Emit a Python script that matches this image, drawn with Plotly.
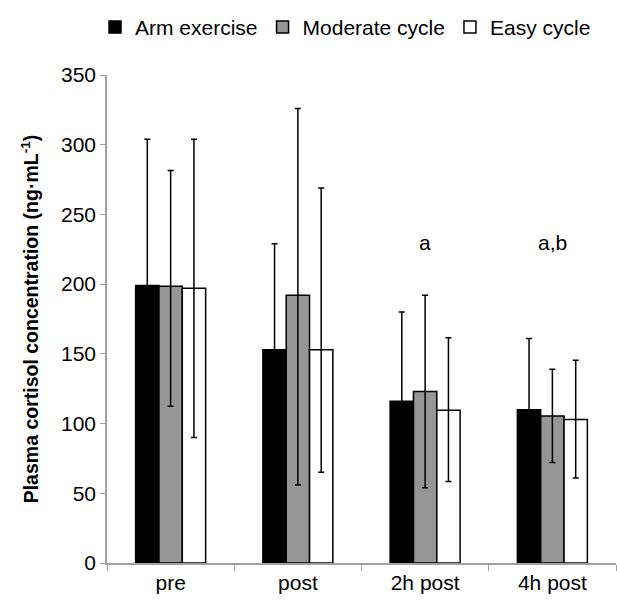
import plotly.graph_objects as go

categories = ["pre", "post", "2h post", "4h post"]
series_names = ["Arm exercise", "Moderate cycle", "Easy cycle"]

arm_mean = [199, 153, 116, 110]
arm_err_up = [105, 76, 64, 51]
arm_err_down = [105, 76, 64, 51]

mod_mean = [198.5, 192, 123, 105.5]
mod_err_up = [83, 134, 69, 33.5]
mod_err_down = [86, 136, 69, 33.5]

easy_mean = [197, 153, 109.5, 103]
easy_err_up = [107, 116, 52, 42.5]
easy_err_down = [107, 88, 51, 42]

annot_cats = ["2h post", "4h post"]
annot_text = ["a", "a,b"]
annot_y = [230, 230]

colors = ["#000000", "#969696", "#ffffff"]
means = [arm_mean, mod_mean, easy_mean]
ups = [arm_err_up, mod_err_up, easy_err_up]
downs = [arm_err_down, mod_err_down, easy_err_down]

FONT = "Liberation Sans"

fig = go.Figure()
for name, m, u, d, c in zip(series_names, means, ups, downs, colors):
    fig.add_trace(go.Bar(
        x=categories, y=m, name=name,
        marker=dict(color=c, line=dict(color="#000000", width=1.5)),
        error_y=dict(type="data", symmetric=False, array=u, arrayminus=d,
                     color="#000000", thickness=1.5, width=3),
    ))

for cat, t, yv in zip(annot_cats, annot_text, annot_y):
    fig.add_annotation(x=cat, y=yv, text=t, showarrow=False,
                       font=dict(family=FONT, size=21, color="#000000"))

fig.update_layout(
    width=617, height=605,
    margin=dict(l=107, r=1, t=75, b=42),
    paper_bgcolor="white", plot_bgcolor="white",
    barmode="group", bargap=0.45, bargroupgap=0,
    font=dict(family=FONT, size=21, color="#000000"),
    showlegend=True,
    legend=dict(orientation="h", x=0.56, xanchor="center", xref="container",
                y=0.955, yanchor="middle", yref="container",
                font=dict(family=FONT, size=21), traceorder="normal",
                itemwidth=30, tracegroupgap=0),
    xaxis=dict(type="category", showline=True, linecolor="#a0a0a0", linewidth=1.5,
               ticks="outside", tickson="boundaries", ticklen=6, tickcolor="#a0a0a0",
               tickfont=dict(family=FONT, size=21), showgrid=False, automargin=False),
    yaxis=dict(range=[0, 350], dtick=50, showline=True, linecolor="#a0a0a0", linewidth=1.5,
               ticks="outside", ticklen=5, tickcolor="#a0a0a0", showgrid=False,
               tickfont=dict(family=FONT, size=21), zeroline=False, automargin=False,
               title=dict(text="<b>Plasma cortisol concentration (ng·mL<sup>-1</sup>)</b>",
                          font=dict(family=FONT, size=19.5), standoff=17)),
)

fig.write_html("out.html", config={"displayModeBar": False},
               post_script="document.body.style.margin='0';")
